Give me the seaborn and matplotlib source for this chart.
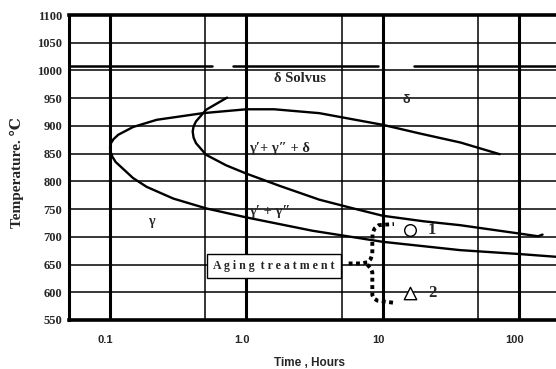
import matplotlib
matplotlib.use('Agg')
import matplotlib.pyplot as plt
import matplotlib.transforms as mtrans
from matplotlib.ticker import FixedLocator, NullFormatter
import seaborn as sns

sns.set_style('white')

# outer C-curve (time in hours, temperature in C)
outer_t = [72.2, 37.3, 19.0, 10, 3.43, 1.6, 1.0, 0.48, 0.22, 0.1475, 0.1148,
           0.106, 0.101, 0.1, 0.101, 0.1043, 0.1099, 0.1475, 0.186, 0.291,
           0.512, 1.0, 3.05, 10, 37, 100, 187]
outer_T = [849, 870, 886, 902, 923, 930, 930, 923, 911, 898, 884,
           876, 868, 861, 853, 844, 835, 806, 790, 769,
           751, 735, 711, 691, 676, 669, 664]

# inner C-curve
inner_t = [0.722, 0.506, 0.427, 0.41, 0.404, 0.41, 0.427, 0.506, 0.71, 1.0,
           1.75, 3.43, 5.7, 10, 20, 37, 100, 138, 149]
inner_T = [951, 929, 908, 899, 890, 879, 869, 848, 829, 814,
           792, 767, 753, 738, 728, 721, 706, 701, 704]

# delta solvus, drawn in three pieces
solvus_T = 1008
solvus_t = [[0.05, 0.563], [0.803, 9.19], [16.9, 187]]

# aging treatment paths
aging1_t = [5.63, 6.9, 7.72, 8.17, 8.4, 8.4, 8.45, 8.73, 9.35, 10.5, 12.1]
aging1_T = [652, 652, 654, 660, 669, 694, 707, 715, 721, 722, 723]
aging2_t = [7.72, 8.17, 8.4, 8.4, 8.63, 9.14, 10.5, 12.1]
aging2_T = [650, 643, 636, 595, 589, 585, 583, 581]

# sample symbols
sym1_t, sym1_T = [16.0], [712]
sym2_t, sym2_T = [15.8], [599]

xticks = [0.1, 1, 10, 100]
xtick_labels = ['0.1', '1.0', '10', '100']
xminor = [0.5, 5, 50]
yticks = list(range(550, 1101, 50))

fig = plt.figure(figsize=(5.56, 3.69), dpi=100)
ax = fig.add_axes([69 / 556, 1 - 320 / 369, 487 / 556, 305 / 369])
ax.set_xscale('log')
ax.set_xlim(0.05, 187)
ax.set_ylim(550, 1100)

ax.set_xticks(xticks)
ax.set_xticklabels(xtick_labels)
ax.xaxis.set_minor_locator(FixedLocator(xminor))
ax.xaxis.set_minor_formatter(NullFormatter())
ax.set_yticks(yticks)

ax.grid(which='major', axis='x', color='black', lw=2.2)
ax.grid(which='minor', axis='x', color='black', lw=1.1)
ax.grid(which='major', axis='y', color='black', lw=1.1)
ax.set_axisbelow(True)

for s in ['top', 'bottom']:
    ax.spines[s].set_linewidth(2.6)
ax.spines['left'].set_linewidth(2.2)
ax.spines['right'].set_visible(False)
for s in ax.spines.values():
    s.set_color('black')

ax.tick_params(axis='both', which='both', length=0)
ax.tick_params(axis='x', pad=11)
ax.tick_params(axis='y', pad=5)
for lab in ax.get_yticklabels():
    lab.set_fontfamily('Liberation Serif')
    lab.set_fontweight('bold')
    lab.set_fontsize(9)
for lab in ax.get_xticklabels():
    lab.set_fontfamily('Liberation Sans')
    lab.set_fontweight('bold')
    lab.set_fontsize(8)
    lab.set_transform(lab.get_transform() +
                      mtrans.ScaledTranslation(-4.5 / 100, 0, fig.dpi_scale_trans))

ax.set_xlabel('Time , Hours', fontfamily='Liberation Sans', fontweight='bold',
              fontsize=8.5)
ax.xaxis.set_label_coords((310 - 69) / 487, -(357 - 320) / 305)
ax.set_ylabel('Temperature. ℃', family=['Liberation Serif', 'DejaVu Serif'],
              fontweight='bold', fontsize=11)
ax.yaxis.set_label_coords(-(69 - 24) / 487, (320 - 173) / 305)

# curves
sns.lineplot(x=outer_t, y=outer_T, sort=False, estimator=None, ax=ax,
             color='black', lw=1.7)
sns.lineplot(x=inner_t, y=inner_T, sort=False, estimator=None, ax=ax,
             color='black', lw=1.7)
for seg in solvus_t:
    sns.lineplot(x=seg, y=[solvus_T, solvus_T], sort=False, estimator=None,
                 ax=ax, color='black', lw=1.8)

for tt, TT in [(aging1_t, aging1_T), (aging2_t, aging2_T)]:
    sns.lineplot(x=tt, y=TT, sort=False, estimator=None, ax=ax,
                 color='black', lw=2.8, linestyle=(0, (1, 0.9)))

sns.scatterplot(x=sym1_t, y=sym1_T, ax=ax, marker='o', s=70,
                facecolor='white', edgecolor='black', linewidth=1.0, zorder=5)
sns.scatterplot(x=sym2_t, y=sym2_T, ax=ax, marker='^', s=80,
                facecolor='white', edgecolor='black', linewidth=1.0, zorder=5)

serif = ['Liberation Serif', 'DejaVu Serif']
ax.text(21.5, 712, '1', family=serif, fontweight='bold', fontsize=12,
        va='center', ha='left')
ax.text(21.5, 598, '2', family=serif, fontweight='bold', fontsize=12,
        va='center', ha='left')

ax.text(2.49, 985, 'δ Solvus', family=serif, fontweight='bold', fontsize=10.5,
        ha='center', va='center')
ax.text(15.0, 946, 'δ', family=['Liberation Sans', 'DejaVu Sans'],
        fontweight='bold', fontsize=9, ha='center', va='center')
ax.text(1.04, 860, 'γ′+ γ″ + δ', family=serif, fontweight='bold', fontsize=10.5,
        ha='left', va='center')
ax.text(1.04, 746, 'γ′ + γ″', family=serif, fontweight='bold', fontsize=10.5,
        ha='left', va='center')
ax.text(0.202, 727, 'γ', family=serif, fontweight='bold', fontsize=10,
        ha='center', va='center')

ax.text(1.6, 647, 'A g i n g  t r e a t m e n t', family=serif,
        fontweight='bold', fontsize=8.6, ha='center', va='center',
        bbox=dict(boxstyle='square,pad=0.5', facecolor='white',
                  edgecolor='black', lw=1.0), zorder=6)

fig.savefig('out.png', dpi=100)
